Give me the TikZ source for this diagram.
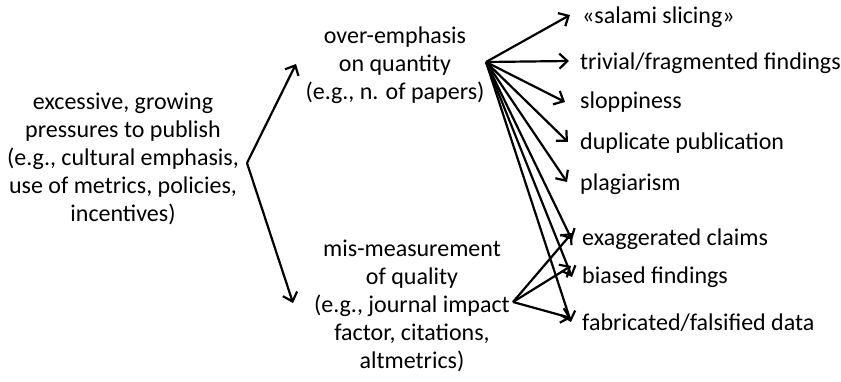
\documentclass[tikz,border=0pt]{standalone}
\usepackage{fontspec}
\setmainfont{Carlito}
\usetikzlibrary{arrows.meta}
\begin{document}
\begin{tikzpicture}[x=1pt,y=-1pt,
  txt/.style={inner sep=0pt,font=\fontsize{24}{28}\selectfont},
  blk/.style={txt,align=center},
  lab/.style={txt,anchor=west},
  arr/.style={line width=2.2pt,-{Straight Barb[length=8pt,width=15pt,line width=2.2pt]}}]
\useasboundingbox (0,0) rectangle (841,381);
\node[blk] (press) at (123,159) {excessive, growing\\pressures to publish\\(e.g., cultural emphasis,\\use of metrics, policies,\\incentives)};
\node[blk] (quant) at (395,65) {over-emphasis\\on quantity\\(e.g., n. of papers)};
\node[blk] (qual) at (412,306) {mis-measurement\\of quality\\(e.g., journal impact\\factor, citations,\\altmetrics)};
\node[lab] (l1) at (582,17) {«salami slicing»};
\node[lab] (l2) at (580,63) {trivial/fragmented findings};
\node[lab] (l3) at (580,102) {sloppiness};
\node[lab] (l4) at (580,143) {duplicate publication};
\node[lab] (l5) at (580,184) {plagiarism};
\node[lab] (l6) at (582,239) {exaggerated claims};
\node[lab] (l7) at (582,277) {biased findings};
\node[lab] (l8) at (582,323) {fabricated/falsified data};
\coordinate (v) at (247,163);
\coordinate (q) at (486,62);
\coordinate (m) at (513,302);
\coordinate (t1) at (570,15);
\coordinate (t2) at (569,61);
\coordinate (t3) at (565,102);
\coordinate (t4) at (568,142);
\coordinate (t5) at (567,182);
\coordinate (t6) at (572,240);
\coordinate (t7) at (572,277);
\coordinate (t8) at (571,322);
\coordinate (b6) at (572,233);
\coordinate (b7) at (571,266);
\coordinate (b8) at (571,318);
\coordinate (vt) at (296,64);
\coordinate (vb) at (293,303);
\draw[arr] (v) -- (vt);
\draw[arr] (v) -- (vb);
\foreach \i in {1,...,8} \draw[arr] (q) -- (t\i);
\foreach \i in {6,7,8} \draw[arr] (m) -- (b\i);
\end{tikzpicture}
\end{document}
